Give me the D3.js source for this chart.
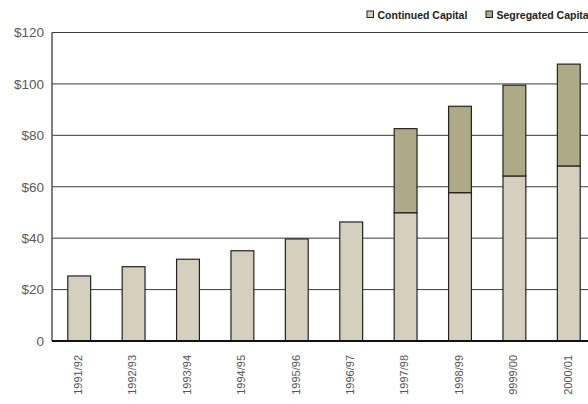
<!DOCTYPE html>
<html>
<head>
<meta charset="utf-8">
<script src="https://cdn.jsdelivr.net/npm/d3@7"></script>
<style>
  body { margin: 0; background: #fff; }
  svg { display: block; }
</style>
</head>
<body>
<div id="chart"></div>
<script>
const years = ["1991/92", "1992/93", "1993/94", "1994/95", "1995/96",
  "1996/97", "1997/98", "1998/99", "9999/00", "2000/01"];
const continued = [25.3, 28.9, 31.8, 35.1, 39.7, 46.3, 49.9, 57.7, 64.2, 68.1];
const segregated = [0, 0, 0, 0, 0, 0, 32.7, 33.6, 35.3, 39.6];
const seriesNames = ["Continued Capital", "Segregated Capital"];
const yTicks = [0, 20, 40, 60, 80, 100, 120];

const width = 588, height = 404;
const margin = { top: 32.5, left: 52, bottom: 63 };
const colors = ["#d5d0bd", "#aeaa86"];

const svg = d3.select("#chart").append("svg")
  .attr("width", width)
  .attr("height", height);

const x = d3.scaleBand()
  .domain(years)
  .range([margin.left, 596])
  .paddingInner(0.58)
  .paddingOuter(0.29);

const y = d3.scaleLinear()
  .domain([0, 120])
  .range([height - margin.bottom, margin.top]);

// gridlines
svg.append("g")
  .selectAll("line")
  .data(yTicks.filter(d => d > 0))
  .enter()
  .append("line")
  .attr("x1", margin.left)
  .attr("x2", width)
  .attr("y1", d => y(d))
  .attr("y2", d => y(d))
  .attr("stroke", "#3a3a3a")
  .attr("stroke-width", 1);

// y labels
svg.append("g")
  .selectAll("text")
  .data(yTicks)
  .enter()
  .append("text")
  .attr("x", 44)
  .attr("y", d => y(d) + 4.8)
  .attr("text-anchor", "end")
  .style("font-family", "'Liberation Sans', Arial, sans-serif")
  .style("font-size", "13.5px")
  .attr("fill", "#5a5a5a")
  .text(d => d === 0 ? "0" : "$" + d);

// stacked bars
const rows = years.map((yr, i) => ({ year: yr, c: continued[i], s: segregated[i] }));
const stack = d3.stack().keys(["c", "s"])(rows);

svg.append("g")
  .selectAll("g")
  .data(stack)
  .enter()
  .append("g")
  .attr("fill", (d, i) => colors[i])
  .selectAll("rect")
  .data(d => d.filter(p => p[1] - p[0] > 0))
  .enter()
  .append("rect")
  .attr("x", d => x(d.data.year))
  .attr("width", x.bandwidth())
  .attr("y", d => y(d[1]))
  .attr("height", d => y(d[0]) - y(d[1]))
  .attr("stroke", "#222")
  .attr("stroke-width", 1.2);

// axis lines
svg.append("line")
  .attr("x1", margin.left).attr("x2", margin.left)
  .attr("y1", y(120)).attr("y2", y(0))
  .attr("stroke", "#555").attr("stroke-width", 1.5);

svg.append("line")
  .attr("x1", margin.left).attr("x2", width)
  .attr("y1", y(0)).attr("y2", y(0))
  .attr("stroke", "#111").attr("stroke-width", 2);

// x labels
svg.append("g")
  .selectAll("text")
  .data(years)
  .enter()
  .append("text")
  .attr("transform", d => `translate(${x(d) + x.bandwidth() / 2 - 1}, 355) rotate(-90)`)
  .attr("text-anchor", "end")
  .attr("dy", "0.35em")
  .style("font-family", "'Liberation Sans', Arial, sans-serif")
  .style("font-size", "11px")
  .attr("fill", "#555")
  .text(d => d);

// legend
const legend = svg.append("g")
  .selectAll("g")
  .data(seriesNames)
  .enter()
  .append("g")
  .attr("transform", (d, i) => `translate(${[367, 486][i]}, 11)`);

legend.append("rect")
  .attr("width", 6.5)
  .attr("height", 6.5)
  .attr("fill", (d, i) => colors[i])
  .attr("stroke", "#222")
  .attr("stroke-width", 1);

legend.append("text")
  .attr("x", 10.5)
  .attr("y", 7.5)
  .style("font-family", "'Liberation Sans', Arial, sans-serif")
  .style("font-size", "10.5px")
  .style("font-weight", "bold")
  .attr("fill", "#222")
  .text(d => d);
</script>
</body>
</html>
